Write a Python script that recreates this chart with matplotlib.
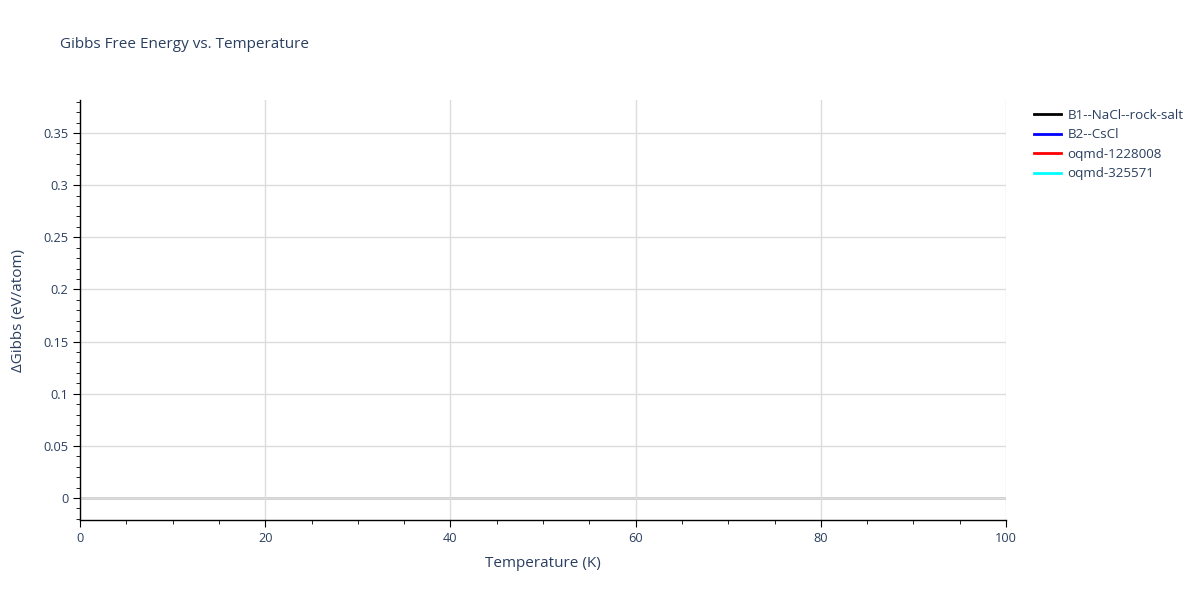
import matplotlib
matplotlib.use('Agg')
from matplotlib import pyplot as plt
from matplotlib.ticker import MultipleLocator

plt.rcParams['font.family'] = ['Open Sans', 'DejaVu Sans']

# phase names shown in the legend; no data points fall inside the plotted window
phases = ['B1--NaCl--rock-salt', 'B2--CsCl', 'oqmd-1228008', 'oqmd-325571']
colors = ['black', 'blue', 'red', 'cyan']
temperature = [[], [], [], []]
d_gibbs = [[], [], [], []]

txt = '#2a3f5f'

fig = plt.figure(figsize=(12, 6), dpi=100)
ax = fig.add_axes([80 / 1200, 80 / 600, 926 / 1200, 420 / 600])

for name, col, t, g in zip(phases, colors, temperature, d_gibbs):
    ax.plot(t, g, color=col, lw=2, label=name)

ax.set_xlim(0, 100)
ax.set_ylim(-0.0211, 0.3817)
ax.xaxis.set_major_locator(MultipleLocator(20))
ax.xaxis.set_minor_locator(MultipleLocator(5))
ax.yaxis.set_major_locator(MultipleLocator(0.05))
ax.yaxis.set_minor_locator(MultipleLocator(0.01))
ax.yaxis.set_major_formatter(plt.FuncFormatter(lambda v, p: f'{v:.2f}'.rstrip('0').rstrip('.') if abs(v) > 1e-9 else '0'))

ax.grid(True, which='major', color='#dcdcdc', lw=1)
ax.axhline(0, color='#cccccc', lw=2, zorder=1)
for s in ('top', 'right'):
    ax.spines[s].set_visible(False)
for s in ('left', 'bottom'):
    ax.spines[s].set_color('black')
    ax.spines[s].set_linewidth(1)

ax.tick_params(which='major', direction='out', length=5, color='black', labelcolor=txt, labelsize=9.2)
ax.tick_params(which='minor', direction='out', length=3, color='black')

ax.set_xlabel('Temperature (K)', color=txt, fontsize=11, labelpad=8)
ax.set_ylabel('ΔGibbs (eV/atom)', color=txt, fontsize=11, labelpad=12)
fig.text(60 / 1200, 1 - 45 / 600, 'Gibbs Free Energy vs. Temperature', color=txt, fontsize=11, va='center')

fig.legend(loc='upper left', bbox_to_anchor=(1022 / 1200, 1 - 97 / 600), frameon=False,
           fontsize=9.6, labelcolor=txt, handlelength=2.0, handletextpad=0.5, labelspacing=0.48)

fig.savefig('out.png')
